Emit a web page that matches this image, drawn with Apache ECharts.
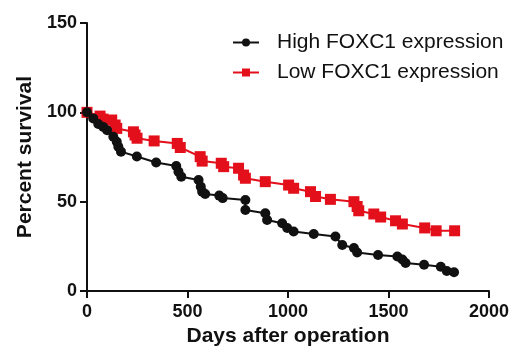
<!DOCTYPE html>
<html><head><meta charset="utf-8">
<script src="https://cdn.jsdelivr.net/npm/echarts@6/dist/echarts.min.js"></script>
<style>html,body{margin:0;padding:0;background:#fff}#c{width:518px;height:353px}</style>
</head><body><div id="c"></div>
<script>
const highDays = [0,31,56,81,100,131,148,156,169,248,344,444,455,469,555,566,573,588,658,675,788,788,887,896,971,996,1028,1128,1236,1270,1328,1344,1448,1544,1569,1585,1677,1760,1790,1826];
const highSurv = [100,96.6,93.5,91.8,90,86.3,83.5,80.7,78,75.3,71.9,70,66.8,64,62.1,58.4,55.6,54.3,53.4,52,50.9,45.3,43.5,39.7,37.9,35.3,33.3,31.9,30.5,25.7,24.1,21.5,20.1,19.3,17.6,15.7,14.7,13.6,11.2,10.5];
const lowDays = [0,65,80,123,140,148,231,239,249,334,449,464,563,573,668,680,754,779,788,887,1003,1028,1112,1137,1211,1328,1344,1352,1427,1461,1535,1569,1680,1737,1829];
const lowSurv = [100,97.9,96.2,95.7,92.9,91,89.1,87.3,85.5,84,82.6,80.3,75.2,72.7,71.5,69.6,68.7,64.9,63.1,61.2,59.3,57.5,55.6,52.9,51.3,50,47.3,44.9,43.1,41.4,39.3,37.5,35.3,33.7,33.7];
const seriesNames = ['High FOXC1 expression','Low FOXC1 expression'];
const xTicks = [0,500,1000,1500,2000];
const yTicks = [0,50,100,150];

const chart = echarts.init(document.getElementById('c'));
const font = 'Liberation Sans, Arial, Helvetica, sans-serif';
const zip = (a,b)=>a.map((v,i)=>[v,b[i]]);
chart.setOption({
  animation:false,
  textStyle:{fontFamily:font},
  grid:{left:87,right:29,top:23,bottom:62},
  legend:{
    left:227, top:27, orient:'vertical', itemGap:9, itemWidth:26, itemHeight:10,
    textStyle:{fontSize:21, color:'#111', fontFamily:font, padding:[0,0,0,13]},
    data:seriesNames
  },
  xAxis:{
    type:'value', min:0, max:2000, interval:500,
    name:'Days after operation', nameLocation:'middle', nameGap:33,
    nameTextStyle:{fontSize:21, fontWeight:'bold', color:'#111'},
    axisLine:{lineStyle:{color:'#111', width:2}},
    axisTick:{show:true, length:7, lineStyle:{color:'#111', width:2}},
    axisLabel:{fontSize:18, fontWeight:'bold', color:'#111', margin:12,
      formatter:v=>xTicks.includes(v)?String(v):''},
    splitLine:{show:false}
  },
  yAxis:{
    type:'value', min:0, max:150, interval:50,
    name:'Percent survival', nameLocation:'middle', nameGap:49, nameRotate:90,
    nameTextStyle:{fontSize:21, fontWeight:'bold', color:'#111'},
    axisLine:{show:true, lineStyle:{color:'#111', width:2}},
    axisTick:{show:true, length:7, lineStyle:{color:'#111', width:2}},
    axisLabel:{fontSize:18, fontWeight:'bold', color:'#111', margin:10,
      formatter:v=>yTicks.includes(v)?String(v):''},
    splitLine:{show:false}
  },
  series:[
    {name:seriesNames[0], type:'line', data:zip(highDays,highSurv), symbol:'circle', symbolSize:10,
     itemStyle:{color:'#111'}, lineStyle:{color:'#111', width:2}, z:3},
    {name:seriesNames[1], type:'line', data:zip(lowDays,lowSurv), symbol:'rect', symbolSize:11,
     itemStyle:{color:'#e3101c'}, lineStyle:{color:'#e3101c', width:2}, z:2}
  ]
});
</script></body></html>
